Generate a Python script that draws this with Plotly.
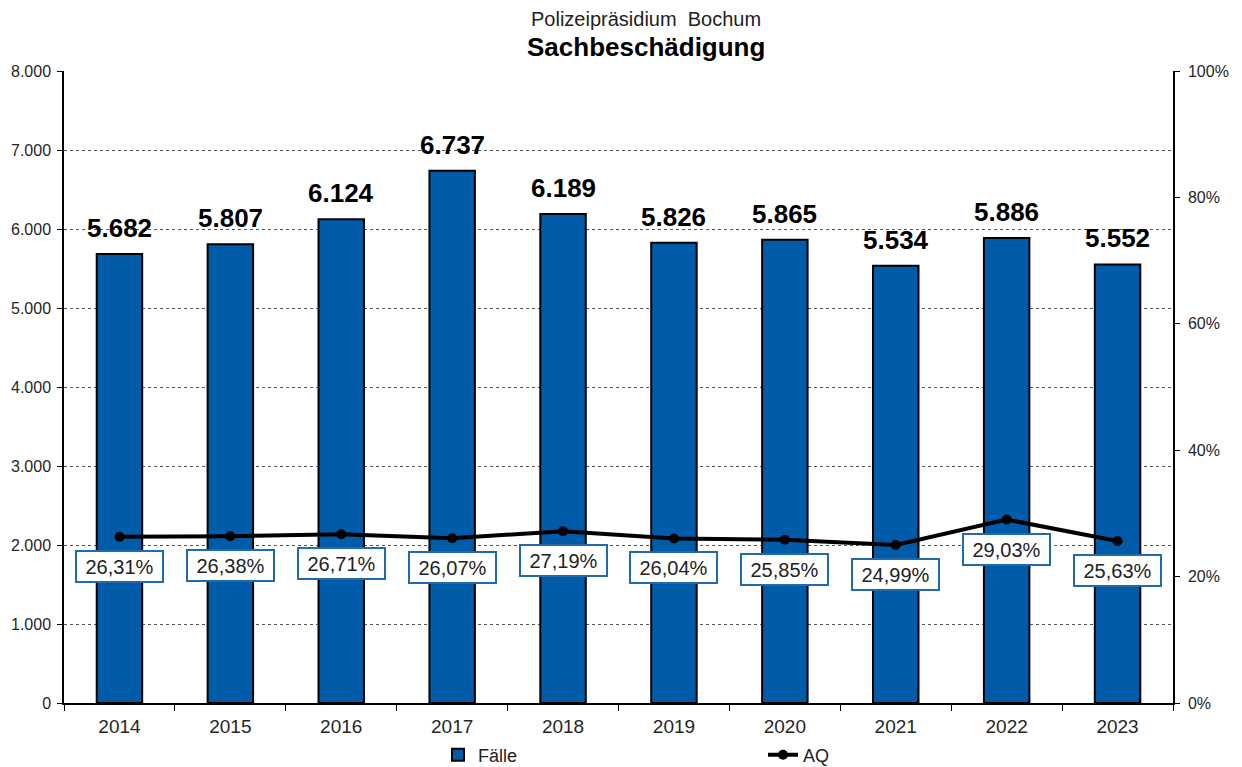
import plotly.graph_objects as go

years = ["2014", "2015", "2016", "2017", "2018", "2019", "2020", "2021", "2022", "2023"]
faelle = [5682, 5807, 6124, 6737, 6189, 5826, 5865, 5534, 5886, 5552]
aq = [0.2631, 0.2638, 0.2671, 0.2607, 0.2719, 0.2604, 0.2585, 0.2499, 0.2903, 0.2563]

FONT = "Arial, Liberation Sans, sans-serif"
BLUE = "#005CA8"
PLOT_H = 703 - 71
PLOT_W = 1173 - 64

fig = go.Figure()
fig.add_trace(go.Bar(
    x=years, y=faelle, name="Fälle", width=0.41,
    marker=dict(color=BLUE, line=dict(color="black", width=2)),
    hoverinfo="skip",
))
fig.add_trace(go.Scatter(
    x=years, y=aq, name="AQ", yaxis="y2", mode="lines+markers",
    line=dict(color="black", width=4), marker=dict(color="black", size=10),
    hoverinfo="skip",
))

annotations = []
for i, v in enumerate(faelle):
    annotations.append(dict(
        x=i, y=v, xref="x", yref="y", text=f"<b>{v:,}</b>".replace(",", "."),
        showarrow=False, yanchor="bottom", yshift=9,
        font=dict(family=FONT, size=26, color="black"),
    ))
for i, v in enumerate(aq):
    annotations.append(dict(
        x=i, y=v, xref="x", yref="y2", text=f"{v*100:.2f}%".replace(".", ","),
        showarrow=False, yanchor="top", yshift=-13,
        width=79, height=23, align="center", valign="middle",
        font=dict(family=FONT, size=20, color="#222222"),
        bgcolor="white", bordercolor="#1F6BAE", borderwidth=2, borderpad=3,
    ))
title_x = (646 - 64) / PLOT_W
annotations.append(dict(
    x=title_x, y=(703 - 19) / PLOT_H, xref="paper", yref="paper", yanchor="middle",
    text="Polizeipräsidium  Bochum", showarrow=False,
    font=dict(family=FONT, size=20, color="#222222"),
))
annotations.append(dict(
    x=title_x, y=(703 - 47) / PLOT_H, xref="paper", yref="paper", yanchor="middle",
    text="<b>Sachbeschädigung</b>", showarrow=False,
    font=dict(family=FONT, size=26, color="black"),
))

fig.update_layout(
    width=1242, height=767,
    margin=dict(l=64, r=69, t=71, b=64),
    paper_bgcolor="white", plot_bgcolor="white",
    separators=",.",
    font=dict(family=FONT, size=16, color="#262626"),
    showlegend=True,
    legend=dict(
        orientation="h", x=(438 - 64) / PLOT_W, xanchor="left",
        yref="container", y=(767 - 755) / 767, yanchor="middle",
        entrywidth=280, font=dict(family=FONT, size=18, color="#222222"),
        bgcolor="rgba(0,0,0,0)", traceorder="normal",
    ),
    xaxis=dict(
        type="category", tickson="boundaries", ticks="outside", ticklen=6,
        tickcolor="black", showline=True, linecolor="black", linewidth=1.5,
        showgrid=False, tickfont=dict(size=19, color="#262626"),
        ticklabelstandoff=5,
        range=[-0.5, 9.5], automargin=False,
    ),
    yaxis=dict(
        range=[0, 8000], dtick=1000, tickformat=",d", ticks="outside", ticklen=5,
        tickcolor="black", showline=True, linecolor="black", linewidth=1.5,
        showgrid=True, gridcolor="#555555", griddash="dot", gridwidth=1,
        zeroline=False, tickfont=dict(size=16, color="#262626"), automargin=False,
        ticklabelstandoff=3,
    ),
    yaxis2=dict(
        overlaying="y", side="right", range=[0, 1], dtick=0.2, tickformat=".0%",
        ticks="outside", ticklen=5, tickcolor="black", showline=True,
        linecolor="black", linewidth=1.5, showgrid=False, zeroline=False,
        tickfont=dict(size=16, color="#262626"), automargin=False,
        ticklabelstandoff=5,
    ),
    annotations=annotations,
)

fig.write_html("out.html", config={"displayModeBar": False},
               post_script="document.body.style.margin='0';")
